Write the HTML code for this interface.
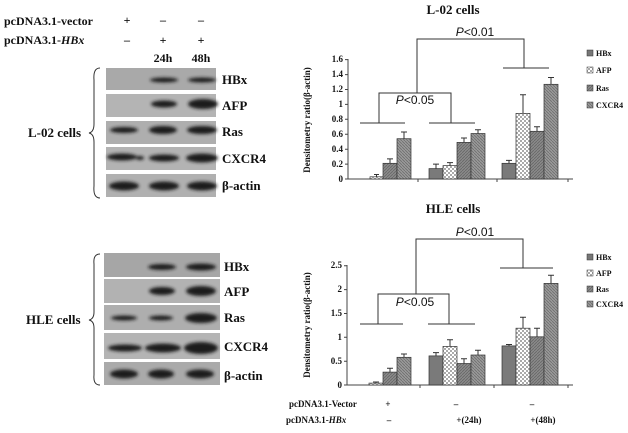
<!DOCTYPE html>
<html><head><meta charset="utf-8"><style>
html,body{margin:0;padding:0;background:#fff;}
svg{display:block;font-family:"Liberation Serif",serif;font-weight:bold;}
</style></head><body>
<svg width="628" height="433" viewBox="0 0 628 433" xmlns="http://www.w3.org/2000/svg">
<defs>
<filter id="bl" x="-50%" y="-100%" width="200%" height="300%"><feGaussianBlur stdDeviation="1.6"/></filter>
<pattern id="chk" width="4" height="4" patternUnits="userSpaceOnUse"><rect width="4" height="4" fill="#fff"/><rect width="2" height="2" fill="#aaa"/><rect x="2" y="2" width="2" height="2" fill="#aaa"/></pattern>
<pattern id="h1" width="3" height="3" patternUnits="userSpaceOnUse"><rect width="3" height="3" fill="#8a8a8a"/><path d="M0 3L3 0" stroke="#666" stroke-width="0.8"/></pattern>
<pattern id="h2" width="3" height="3" patternUnits="userSpaceOnUse"><rect width="3" height="3" fill="#9a9a9a"/><path d="M0 0L3 3" stroke="#6e6e6e" stroke-width="0.8"/></pattern>
</defs>
<rect width="628" height="433" fill="#fff"/>
<!-- top labels -->
<g font-size="12" fill="#111">
<text x="4" y="25">pcDNA3.1-vector</text>
<text x="4" y="44">pcDNA3.1-<tspan font-style="italic">HBx</tspan></text>
<text x="127" y="24" text-anchor="middle">+</text><text x="163" y="24" text-anchor="middle">–</text><text x="201" y="24" text-anchor="middle">–</text>
<text x="127" y="44" text-anchor="middle">–</text><text x="163" y="44" text-anchor="middle">+</text><text x="201" y="44" text-anchor="middle">+</text>
<text x="163" y="62" text-anchor="middle">24h</text><text x="201" y="62" text-anchor="middle">48h</text>
</g>
<!-- L-02 blot -->
<g>
<rect x="106" y="68" width="110" height="22" fill="#a9a9a9"/>
<rect x="106" y="94" width="110" height="23" fill="#b4b4b4"/>
<rect x="106" y="121" width="110" height="23" fill="#aeaeae"/>
<rect x="106" y="147" width="110" height="23" fill="#b3b3b3"/>
<rect x="106" y="174" width="110" height="23" fill="#b0b0b0"/>
<g fill="#1c1c1c" filter="url(#bl)">
<ellipse cx="164" cy="80" rx="14" ry="2.5"/><ellipse cx="202" cy="80" rx="14" ry="2.5"/>
<ellipse cx="164" cy="104" rx="13" ry="3.5"/><ellipse cx="203" cy="104" rx="15" ry="5"/>
<ellipse cx="124" cy="130" rx="14" ry="3"/><ellipse cx="163" cy="130" rx="14" ry="4"/><ellipse cx="202" cy="130" rx="15" ry="4"/>
<ellipse cx="122" cy="157" rx="15" ry="3.5"/><ellipse cx="140" cy="158" rx="4" ry="2"/><ellipse cx="164" cy="158" rx="15" ry="3.5"/><ellipse cx="202" cy="158" rx="16" ry="4.5"/>
<ellipse cx="124" cy="186" rx="15" ry="4.5"/><ellipse cx="164" cy="186" rx="15" ry="4.5"/><ellipse cx="202" cy="186" rx="15" ry="4.5"/>
</g>
</g>
<g font-size="13" fill="#111">
<text x="222" y="84">HBx</text><text x="222" y="110">AFP</text><text x="222" y="136">Ras</text><text x="222" y="163">CXCR4</text><text x="222" y="190">β-actin</text>
<text x="28" y="137">L-02 cells</text>
</g>
<path d="M100 68 Q93 68 94 80 L94 124 Q94 132 89 133 Q94 134 94 142 L94 186 Q93 198 100 198" fill="none" stroke="#333" stroke-width="1"/>
<!-- HLE blot -->
<g>
<rect x="104" y="253" width="116" height="24" fill="#a6a6a6"/>
<rect x="104" y="279" width="116" height="24" fill="#b2b2b2"/>
<rect x="104" y="305" width="116" height="25" fill="#aeaeae"/>
<rect x="104" y="333" width="116" height="26" fill="#b4b4b4"/>
<rect x="104" y="362" width="116" height="23" fill="#aaaaaa"/>
<g fill="#1c1c1c" filter="url(#bl)">
<ellipse cx="162" cy="267" rx="14" ry="3"/><ellipse cx="201" cy="267" rx="15" ry="3.5"/>
<ellipse cx="162" cy="291" rx="13" ry="4"/><ellipse cx="201" cy="291" rx="15" ry="5"/>
<ellipse cx="124" cy="318" rx="13" ry="2.5"/><ellipse cx="161" cy="318" rx="12" ry="2.5"/><ellipse cx="201" cy="318" rx="16" ry="5"/>
<ellipse cx="125" cy="348" rx="17" ry="3.5"/><ellipse cx="163" cy="348" rx="18" ry="4.5"/><ellipse cx="201" cy="348" rx="17" ry="6"/>
<ellipse cx="124" cy="374" rx="14" ry="4.5"/><ellipse cx="161" cy="374" rx="13" ry="4.5"/><ellipse cx="200" cy="374" rx="14" ry="4.5"/>
</g>
</g>
<g font-size="13" fill="#111">
<text x="224" y="271">HBx</text><text x="224" y="296">AFP</text><text x="224" y="322">Ras</text><text x="224" y="351">CXCR4</text><text x="224" y="380">β-actin</text>
<text x="26" y="324">HLE cells</text>
</g>
<path d="M100 254 Q93 254 94 264 L94 312 Q94 319 89 320 Q94 321 94 328 L94 375 Q93 385 100 385" fill="none" stroke="#333" stroke-width="1"/>

<!-- top chart -->
<text x="453" y="14" font-size="13" text-anchor="middle" fill="#111">L-02 cells</text>
<text x="310" y="120" font-size="9" text-anchor="middle" transform="rotate(-90 310 120)" fill="#111">Densitometry ratio(β-actin)</text>
<g stroke="#444" stroke-width="1" fill="none">
<path d="M348 59 V179 H573"/>
<path d="M345 179H348M345 164.1H348M345 149.2H348M345 134.2H348M345 119.3H348M345 104.4H348M345 89.5H348M345 74.6H348M345 59.6H348"/>
<path d="M418 179v3M497 179v3M568 179v3"/>
</g>
<g font-size="9" text-anchor="end" fill="#111">
<text x="343" y="182">0</text><text x="343" y="167">0.2</text><text x="343" y="152">0.4</text><text x="343" y="137">0.6</text><text x="343" y="122">0.8</text><text x="343" y="107">1</text><text x="343" y="92">1.2</text><text x="343" y="77">1.4</text><text x="343" y="62">1.6</text>
</g>
<g stroke="#333" stroke-width="0.7">
<rect x="370" y="176.8" width="13" height="2.2" fill="url(#chk)"/>
<rect x="383" y="163.3" width="14" height="15.7" fill="url(#h1)"/>
<rect x="397" y="138.7" width="14" height="40.3" fill="url(#h2)"/>
<rect x="429" y="168.6" width="14" height="10.4" fill="#7a7a7a"/>
<rect x="443" y="165.6" width="14" height="13.4" fill="url(#chk)"/>
<rect x="457" y="142.4" width="14" height="36.6" fill="url(#h1)"/>
<rect x="471" y="133.5" width="14" height="45.5" fill="url(#h2)"/>
<rect x="502" y="163.3" width="14" height="15.7" fill="#7a7a7a"/>
<rect x="516" y="113.4" width="14" height="65.6" fill="url(#chk)"/>
<rect x="530" y="131.3" width="14" height="47.7" fill="url(#h1)"/>
<rect x="544" y="84.3" width="14" height="94.7" fill="url(#h2)"/>
</g>
<g stroke="#333" stroke-width="1" fill="none">
<path d="M376.5 176.8V174.5M374 174.5h5M390 163.3V158.9M387 158.9h6M404 138.7V132M401 132h6"/>
<path d="M436 168.6V164.1M433 164.1h6M450 165.6V162.6M447 162.6h6M464 142.4V138M461 138h6M478 133.5V129.8M475 129.8h6"/>
<path d="M509 163.3V160.4M506 160.4h6M523 113.4V94.7M520 94.7h6M537 131.3V126.8M534 126.8h6M551 84.3V77.5M548 77.5h6"/>
<path d="M360 123H405M429 123H475M503 68H549"/>
<path d="M379 123V93H451V123M417 93V39H524V68"/>
</g>
<text x="475" y="36" font-size="12" font-weight="normal" text-anchor="middle" font-family="Liberation Sans,sans-serif" fill="#111"><tspan font-style="italic">P</tspan>&lt;0.01</text>
<text x="415" y="104" font-size="12" font-weight="normal" text-anchor="middle" font-family="Liberation Sans,sans-serif" fill="#111"><tspan font-style="italic">P</tspan>&lt;0.05</text>
<g font-size="8" fill="#111">
<rect x="587" y="50" width="6" height="6" fill="#777" stroke="#333" stroke-width="0.5"/><text x="596" y="56">HBx</text>
<rect x="587" y="67" width="6" height="6" fill="url(#chk)" stroke="#333" stroke-width="0.5"/><text x="596" y="73">AFP</text>
<rect x="587" y="85" width="6" height="6" fill="url(#h1)" stroke="#333" stroke-width="0.5"/><text x="596" y="91">Ras</text>
<rect x="587" y="102" width="6" height="6" fill="url(#h2)" stroke="#333" stroke-width="0.5"/><text x="596" y="108">CXCR4</text>
</g>

<!-- bottom chart -->
<text x="453" y="213" font-size="13" text-anchor="middle" fill="#111">HLE cells</text>
<text x="310" y="325" font-size="9" text-anchor="middle" transform="rotate(-90 310 325)" fill="#111">Densitometry ratio(β-actin)</text>
<g stroke="#444" stroke-width="1" fill="none">
<path d="M347 265 V385 H573"/>
<path d="M344 385H347M344 361.2H347M344 337.3H347M344 313.5H347M344 289.6H347M344 265.8H347"/>
<path d="M420 385v3M494 385v3M568 385v3"/>
</g>
<g font-size="9" text-anchor="end" fill="#111">
<text x="342" y="388">0</text><text x="342" y="364">0.5</text><text x="342" y="340">1</text><text x="342" y="316">1.5</text><text x="342" y="292">2</text><text x="342" y="268">2.5</text>
</g>
<g stroke="#333" stroke-width="0.7">
<rect x="369" y="383.1" width="14" height="1.9" fill="url(#chk)"/>
<rect x="383" y="372.1" width="14" height="12.9" fill="url(#h1)"/>
<rect x="397" y="357.3" width="14" height="27.7" fill="url(#h2)"/>
<rect x="429" y="355.9" width="14" height="29.1" fill="#7a7a7a"/>
<rect x="443" y="346.4" width="14" height="38.6" fill="url(#chk)"/>
<rect x="457" y="363.5" width="14" height="21.5" fill="url(#h1)"/>
<rect x="471" y="355" width="14" height="30" fill="url(#h2)"/>
<rect x="502" y="345.9" width="14" height="39.1" fill="#7a7a7a"/>
<rect x="516" y="328.2" width="14" height="56.8" fill="url(#chk)"/>
<rect x="530" y="336.8" width="14" height="48.2" fill="url(#h1)"/>
<rect x="544" y="283.4" width="14" height="101.6" fill="url(#h2)"/>
</g>
<g stroke="#333" stroke-width="1" fill="none">
<path d="M376 383.1V382M373 382h6M390 372.1V368.3M387 368.3h6M404 357.3V354M401 354h6"/>
<path d="M436 355.9V352.6M433 352.6h6M450 346.4V339.7M447 339.7h6M464 363.5V358.8M461 358.8h6M478 355V350.2M475 350.2h6"/>
<path d="M509 345.9V344.5M506 344.5h6M523 328.2V317.3M520 317.3h6M537 336.8V328.2M534 328.2h6M551 283.4V275.3M548 275.3h6"/>
<path d="M360 324H403M428 324H475M500 268H553"/>
<path d="M378 324V294H449V324M416 294V239H523V268"/>
</g>
<text x="475" y="236" font-size="12" font-weight="normal" text-anchor="middle" font-family="Liberation Sans,sans-serif" fill="#111"><tspan font-style="italic">P</tspan>&lt;0.01</text>
<text x="415" y="306" font-size="12" font-weight="normal" text-anchor="middle" font-family="Liberation Sans,sans-serif" fill="#111"><tspan font-style="italic">P</tspan>&lt;0.05</text>
<g font-size="8" fill="#111">
<rect x="587" y="254" width="6" height="6" fill="#777" stroke="#333" stroke-width="0.5"/><text x="596" y="260">HBx</text>
<rect x="587" y="270" width="6" height="6" fill="url(#chk)" stroke="#333" stroke-width="0.5"/><text x="596" y="276">AFP</text>
<rect x="587" y="286" width="6" height="6" fill="url(#h1)" stroke="#333" stroke-width="0.5"/><text x="596" y="292">Ras</text>
<rect x="587" y="301" width="6" height="6" fill="url(#h2)" stroke="#333" stroke-width="0.5"/><text x="596" y="307">CXCR4</text>
</g>
<g font-size="9" fill="#111">
<text x="289" y="407">pcDNA3.1-Vector</text>
<text x="286" y="423">pcDNA3.1-<tspan font-style="italic">HBx</tspan></text>
<text x="388" y="407" text-anchor="middle">+</text><text x="456" y="407" text-anchor="middle">–</text><text x="532" y="407" text-anchor="middle">–</text>
<text x="389" y="423" text-anchor="middle">–</text><text x="469" y="423" text-anchor="middle">+(24h)</text><text x="543" y="423" text-anchor="middle">+(48h)</text>
</g>
</svg>
</body></html>
